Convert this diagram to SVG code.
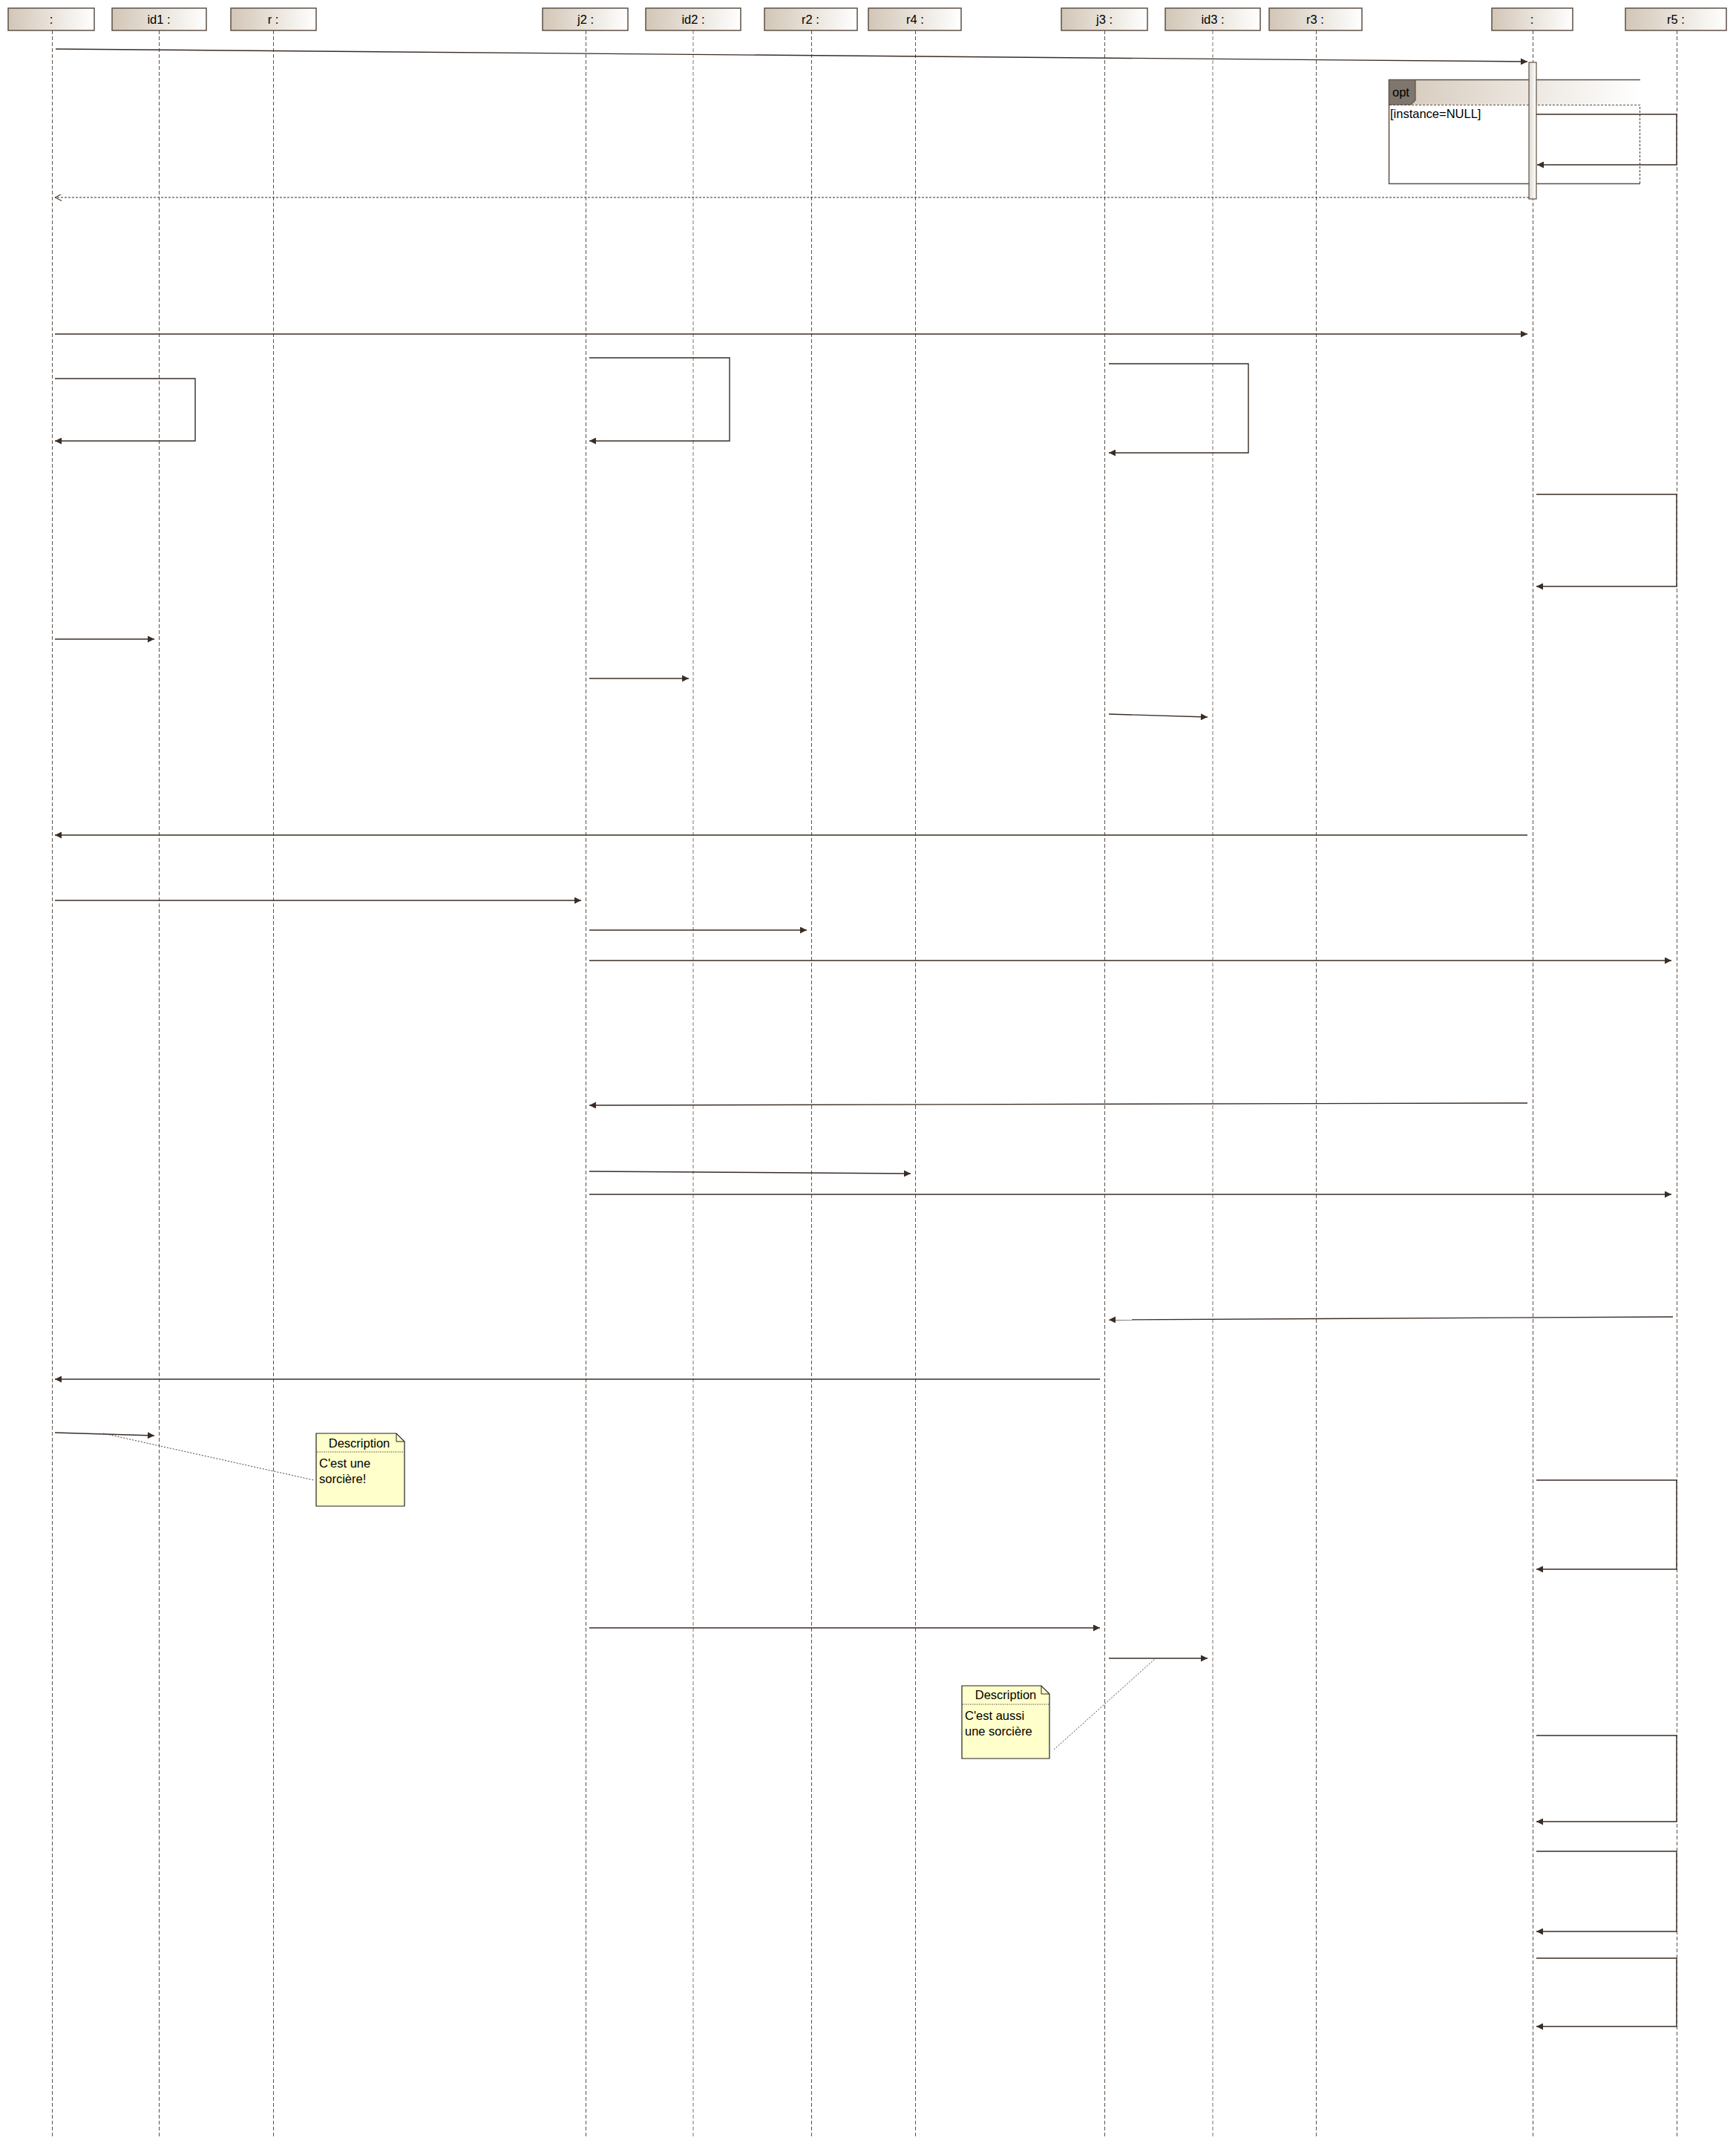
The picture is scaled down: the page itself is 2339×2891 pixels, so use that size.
<svg xmlns="http://www.w3.org/2000/svg" width="2339" height="2891" viewBox="0 0 2339 2891">
<style>
.box{stroke:#5c5047;stroke-width:1.5;fill:url(#hg)}
.lbl{font-family:"Liberation Sans",Arial,sans-serif;font-size:16.5px;fill:#000;text-anchor:middle}
.life{stroke:#5c5047;stroke-width:1;stroke-dasharray:5,3;fill:none}
.msg{stroke:#3a2d25;stroke-width:1.4;fill:none;marker-end:url(#ah)}
.ret{stroke:#3a2d25;stroke-width:1.2;stroke-dasharray:3,2;fill:none;marker-end:url(#oa)}
.note{fill:#ffffcc;stroke:#222;stroke-width:1.2}
.ntxt{font-family:"Liberation Sans",Arial,sans-serif;font-size:16.5px;fill:#000}
.dot{stroke:#444;stroke-width:1;stroke-dasharray:2,2;fill:none}
</style>
<defs>
<linearGradient id="hg" x1="0" y1="0" x2="1" y2="0">
<stop offset="0" stop-color="#d2c6b6"/>
<stop offset="1" stop-color="#ffffff"/>
</linearGradient>
<linearGradient id="ag" x1="0" y1="0" x2="1" y2="0">
<stop offset="0" stop-color="#e0d8cd"/>
<stop offset="1" stop-color="#ffffff"/>
</linearGradient>
<linearGradient id="og" x1="0" y1="0" x2="1" y2="0">
<stop offset="0" stop-color="#d4c8b9"/>
<stop offset="1" stop-color="#ffffff"/>
</linearGradient>
<marker id="ah" viewBox="0 0 10 10" refX="10" refY="5" markerWidth="10" markerHeight="9" markerUnits="userSpaceOnUse" orient="auto">
<path d="M0,0 L10,5 L0,10 z" fill="#3a2d25"/>
</marker>
<marker id="oa" viewBox="0 0 10 10" refX="10" refY="5" markerWidth="10" markerHeight="9" markerUnits="userSpaceOnUse" orient="auto">
<path d="M0,0 L10,5 L0,10" fill="none" stroke="#3a2d25" stroke-width="1.2"/>
</marker>
</defs>
<rect width="2339" height="2891" fill="#fff"/>

<g id="lifelines">
<line class="life" x1="70.5" y1="41" x2="70.5" y2="2880"/>
<line class="life" x1="214.5" y1="41" x2="214.5" y2="2880"/>
<line class="life" x1="368.5" y1="41" x2="368.5" y2="2880"/>
<line class="life" x1="789.5" y1="41" x2="789.5" y2="2880"/>
<line class="life" x1="934" y1="41" x2="934" y2="2880" stroke-opacity="0.8"/>
<line class="life" x1="1093.5" y1="41" x2="1093.5" y2="2880"/>
<line class="life" x1="1233.5" y1="41" x2="1233.5" y2="2880"/>
<line class="life" x1="1488.5" y1="41" x2="1488.5" y2="2880"/>
<line class="life" x1="1634" y1="41" x2="1634" y2="2880" stroke-opacity="0.8"/>
<line class="life" x1="1773.5" y1="41" x2="1773.5" y2="2880"/>
<line class="life" x1="2065.5" y1="41" x2="2065.5" y2="2880"/>
<line class="life" x1="2259.5" y1="41" x2="2259.5" y2="2880"/>
</g>

<g id="n_c1"><rect class="box" x="11" y="11" width="116" height="30"/><text class="lbl" x="69" y="32">:</text></g>
<g id="n_id1"><rect class="box" x="151" y="11" width="127" height="30"/><text class="lbl" x="214" y="32">id1 :</text></g>
<g id="n_r"><rect class="box" x="311" y="11" width="115" height="30"/><text class="lbl" x="368" y="32">r :</text></g>
<g id="n_j2"><rect class="box" x="731" y="11" width="115" height="30"/><text class="lbl" x="789" y="32">j2 :</text></g>
<g id="n_id2"><rect class="box" x="870" y="11" width="128" height="30"/><text class="lbl" x="934" y="32">id2 :</text></g>
<g id="n_r2"><rect class="box" x="1030" y="11" width="125" height="30"/><text class="lbl" x="1092" y="32">r2 :</text></g>
<g id="n_r4"><rect class="box" x="1170" y="11" width="125" height="30"/><text class="lbl" x="1233" y="32">r4 :</text></g>
<g id="n_j3"><rect class="box" x="1430" y="11" width="116" height="30"/><text class="lbl" x="1488" y="32">j3 :</text></g>
<g id="n_id3"><rect class="box" x="1570" y="11" width="128" height="30"/><text class="lbl" x="1634" y="32">id3 :</text></g>
<g id="n_r3"><rect class="box" x="1710" y="11" width="125" height="30"/><text class="lbl" x="1772" y="32">r3 :</text></g>
<g id="n_c2"><rect class="box" x="2010" y="11" width="109" height="30"/><text class="lbl" x="2064" y="32">:</text></g>
<g id="n_r5"><rect class="box" x="2190" y="11" width="136" height="30"/><text class="lbl" x="2258" y="32">r5 :</text></g>

<g id="opt_frame">
<rect x="1871" y="107" width="339" height="34" fill="url(#og)"/>
<path d="M1872,141.5 H2209.5 V247" fill="none" stroke="#5c5047" stroke-width="1.2" stroke-dasharray="3,2"/>
<path d="M2210,107.5 H1871.5 V247.5 H2210" fill="none" stroke="#5c5047" stroke-width="1.5"/>
<path d="M1871.5,107.5 H1907 V135 L1901,141 H1871.5 z" fill="#7f766d" stroke="#5c5047" stroke-width="1.2"/>
<text class="ntxt" x="1876" y="130">opt</text>
<text class="ntxt" x="1873" y="159">[instance=NULL]</text>
</g>

<g id="activation">
<rect x="2060" y="84" width="10" height="184" fill="url(#ag)" stroke="#5c5047" stroke-width="1.2"/>
</g>

<g id="connectors">
<line class="msg" x1="75" y1="66" x2="2058" y2="83"/>
<path class="msg" d="M2070,154 H2259 V222 H2071"/>
<line class="ret" x1="2060" y1="266" x2="74" y2="266"/>
<line class="msg" x1="74" y1="450" x2="2058" y2="450"/>
<path class="msg" d="M74,510 H263 V594 H74"/>
<path class="msg" d="M794,482 H983 V594 H794"/>
<path class="msg" d="M1494,490 H1682 V610 H1494"/>
<path class="msg" d="M2070,666 H2259 V790 H2070"/>
<line class="msg" x1="74" y1="861" x2="208" y2="861"/>
<line class="msg" x1="794" y1="914" x2="928" y2="914"/>
<line class="msg" x1="1494" y1="962" x2="1627" y2="966"/>
<line class="msg" x1="2058" y1="1125" x2="74" y2="1125"/>
<line class="msg" x1="74" y1="1213" x2="783" y2="1213"/>
<line class="msg" x1="794" y1="1253" x2="1087" y2="1253"/>
<line class="msg" x1="794" y1="1294" x2="2252" y2="1294"/>
<line class="msg" x1="2058" y1="1486" x2="794" y2="1489"/>
<line class="msg" x1="794" y1="1578" x2="1227" y2="1581"/>
<line class="msg" x1="794" y1="1609" x2="2252" y2="1609"/>
<line class="msg" x1="2254" y1="1774" x2="1494" y2="1778"/>
<line class="msg" x1="1482" y1="1858" x2="74" y2="1858"/>
<line class="msg" x1="74" y1="1930" x2="208" y2="1934"/>
<path class="msg" d="M2070,1994 H2259 V2114 H2070"/>
<line class="msg" x1="794" y1="2193" x2="1482" y2="2193"/>
<line class="msg" x1="1494" y1="2234" x2="1627" y2="2234"/>
<path class="msg" d="M2070,2338 H2259 V2454 H2070"/>
<path class="msg" d="M2070,2494 H2259 V2602 H2070"/>
<path class="msg" d="M2070,2638 H2259 V2730 H2070"/>
<line class="dot" x1="139" y1="1931" x2="423" y2="1994"/>
<line class="dot" x1="1420" y1="2357" x2="1557" y2="2234"/>
</g>

<g id="note1">
<path class="note" d="M426,1931 H534 L545,1942 V2029 H426 z"/>
<path d="M534,1931 V1942 H545" fill="none" stroke="#222" stroke-width="1"/>
<line x1="427" y1="1956" x2="544" y2="1956" stroke="#222" stroke-width="1" stroke-dasharray="1,1.5"/>
<text class="ntxt" x="484" y="1950" text-anchor="middle">Description</text>
<text class="ntxt" x="430" y="1977">C'est une</text>
<text class="ntxt" x="430" y="1998">sorcière!</text>
</g>

<g id="note2">
<path class="note" d="M1296,2271 H1403 L1414,2282 V2369 H1296 z"/>
<path d="M1403,2271 V2282 H1414" fill="none" stroke="#222" stroke-width="1"/>
<line x1="1297" y1="2296" x2="1413" y2="2296" stroke="#222" stroke-width="1" stroke-dasharray="1,1.5"/>
<text class="ntxt" x="1355" y="2289" text-anchor="middle">Description</text>
<text class="ntxt" x="1300" y="2317">C'est aussi</text>
<text class="ntxt" x="1300" y="2338">une sorcière</text>
</g>
</svg>
